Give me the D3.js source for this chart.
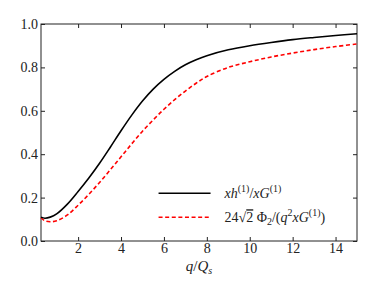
<!DOCTYPE html>
<html>
<head>
<meta charset="utf-8">
<script src="https://cdnjs.cloudflare.com/ajax/libs/d3/7.8.5/d3.min.js"></script>
<style>
  body { margin: 0; background: #fff; }
  svg text { font-family: "Liberation Serif", "DejaVu Serif", serif; fill: #222; }
</style>
</head>
<body>
<div id="chart"></div>
<script>
// data
var qValues = [0.27, 0.45, 0.7, 1, 1.5, 2, 2.5, 3, 3.5, 4, 4.5, 5, 5.5, 6, 6.5, 7, 7.5, 8, 9, 10, 11, 12, 13, 14, 15];
var ratioH = [0.110, 0.105, 0.110, 0.125, 0.170, 0.228, 0.290, 0.358, 0.432, 0.508, 0.580, 0.645, 0.700, 0.745, 0.782, 0.812, 0.835, 0.854, 0.881, 0.900, 0.915, 0.928, 0.938, 0.947, 0.955];
var ratioPhi = [0.107, 0.093, 0.089, 0.093, 0.120, 0.165, 0.215, 0.270, 0.328, 0.388, 0.448, 0.506, 0.558, 0.607, 0.651, 0.691, 0.727, 0.758, 0.800, 0.826, 0.848, 0.866, 0.882, 0.896, 0.908];
var xTicks = [2, 4, 6, 8, 10, 12, 14];
var yTicks = [0, 0.2, 0.4, 0.6, 0.8, 1.0];

var svgWidth = 374;
var svgHeight = 299;

var margin = { top: 24, right: 17, bottom: 58, left: 41 };
var width = svgWidth - margin.left - margin.right;
var height = svgHeight - margin.top - margin.bottom;

var svg = d3.select("#chart")
  .append("svg")
  .attr("width", svgWidth)
  .attr("height", svgHeight);

var chartGroup = svg.append("g")
  .attr("transform", `translate(${margin.left}, ${margin.top})`);

var xScale = d3.scaleLinear().domain([0.27, 15]).range([0, width]);
var yScale = d3.scaleLinear().domain([0, 1]).range([height, 0]);

// frame
chartGroup.append("rect")
  .attr("width", width)
  .attr("height", height)
  .attr("fill", "none")
  .attr("stroke", "#222")
  .attr("stroke-width", 1);

// axes with inward ticks
var bottomAxis = d3.axisBottom(xScale).tickValues(xTicks).tickSize(-4).tickPadding(2).tickFormat(d3.format("d"));
var topAxis = d3.axisTop(xScale).tickValues(xTicks).tickSize(-4).tickFormat("");
var leftAxis = d3.axisLeft(yScale).tickValues(yTicks).tickSize(-4).tickPadding(3).tickFormat(d3.format(".1f"));
var rightAxis = d3.axisRight(yScale).tickValues(yTicks).tickSize(-4).tickFormat("");

function styleAxis(g) {
  g.attr("font-family", null);
  g.select(".domain").remove();
  g.selectAll(".tick line").attr("stroke", "#222");
  g.selectAll("text")
    .style("font-size", "14px")
    .attr("fill", "#222");
}

chartGroup.append("g").attr("transform", `translate(0, ${height})`).call(bottomAxis).call(styleAxis);
chartGroup.append("g").call(topAxis).call(styleAxis);
chartGroup.append("g").call(leftAxis).call(styleAxis);
chartGroup.append("g").attr("transform", `translate(${width}, 0)`).call(rightAxis).call(styleAxis);

// lines
var line = d3.line()
  .x(d => xScale(d[0]))
  .y(d => yScale(d[1]))
  .curve(d3.curveCatmullRom.alpha(0.5));

chartGroup.append("path")
  .datum(qValues.map((q, i) => [q, ratioPhi[i]]))
  .attr("d", line)
  .attr("fill", "none")
  .attr("stroke", "#ff0000")
  .attr("stroke-width", 1.6)
  .attr("stroke-dasharray", "4,2.6");

chartGroup.append("path")
  .datum(qValues.map((q, i) => [q, ratioH[i]]))
  .attr("d", line)
  .attr("fill", "none")
  .attr("stroke", "#000")
  .attr("stroke-width", 1.6);

// x axis label
var xl = chartGroup.append("text")
  .attr("x", width / 2)
  .attr("y", height + 30)
  .attr("text-anchor", "middle")
  .style("font-size", "15px");
xl.append("tspan").style("font-style", "italic").text("q");
xl.append("tspan").text("/");
xl.append("tspan").style("font-style", "italic").text("Q");
xl.append("tspan").style("font-style", "italic").style("font-size", "10px").attr("dy", 3).text("s");

// legend
var legend = chartGroup.append("g")
  .attr("transform", `translate(${xScale(5.75)}, ${yScale(0.22)})`);

legend.append("line")
  .attr("x1", 0).attr("x2", 52).attr("y1", 0).attr("y2", 0)
  .attr("stroke", "#000").attr("stroke-width", 1.6);
legend.append("line")
  .attr("x1", 0).attr("x2", 52).attr("y1", 24).attr("y2", 24)
  .attr("stroke", "#ff0000").attr("stroke-width", 1.6)
  .attr("stroke-dasharray", "4,2.6");

var t1 = legend.append("text").attr("x", 66).attr("y", 5).style("font-size", "14px");
t1.append("tspan").style("font-style", "italic").text("xh");
t1.append("tspan").style("font-size", "10px").attr("dy", -6).text("(1)");
t1.append("tspan").attr("dy", 6).text("/");
t1.append("tspan").style("font-style", "italic").text("xG");
t1.append("tspan").style("font-size", "10px").attr("dy", -6).text("(1)");

var t2 = legend.append("text").attr("x", 66).attr("y", 29).style("font-size", "14px");
t2.append("tspan").text("24\u221A");
t2.append("tspan").style("text-decoration", "overline").text("2");
t2.append("tspan").text(" \u03A6");
t2.append("tspan").style("font-size", "10px").attr("dy", 3).text("2");
t2.append("tspan").attr("dy", -3).text("/(");
t2.append("tspan").style("font-style", "italic").text("q");
t2.append("tspan").style("font-size", "10px").attr("dy", -6).text("2");
t2.append("tspan").attr("dy", 6).style("font-style", "italic").text("xG");
t2.append("tspan").style("font-size", "10px").attr("dy", -6).text("(1)");
t2.append("tspan").attr("dy", 6).text(")");
</script>
</body>
</html>
